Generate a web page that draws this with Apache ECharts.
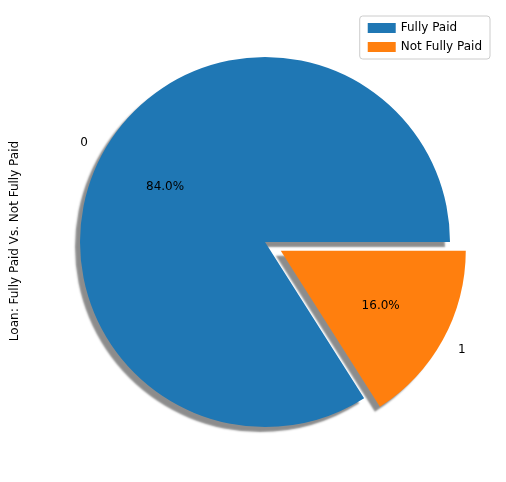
<!DOCTYPE html>
<html><head><meta charset="utf-8">
<script src="https://cdn.jsdelivr.net/npm/echarts@6/dist/echarts.min.js"></script>
<style>html,body{margin:0;padding:0;background:#fff}#c{width:506px;height:482px}</style>
</head><body><div id="c"></div>
<script>
const categories = ['Fully Paid', 'Not Fully Paid'];
const sliceNames = ['0', '1'];
const values = [84.0, 16.0];
const colors = ['#1f77b4', '#ff7f0e'];
const R = 185, C = [265, 242], OFF = 18;
const font = 'DejaVu Sans';
function data(withStyle) {
  return values.map((v, i) => ({
    value: v, name: categories[i], selected: i === 1,
    itemStyle: withStyle ? { color: colors[i] } : { color: 'rgba(0,0,0,0)' }
  }));
}
const base = { type: 'pie', center: C, startAngle: 0, clockwise: false, selectedMode: 'multiple',
  selectedOffset: OFF, animation: false, silent: true, labelLine: { show: false }, emphasis: { disabled: true } };
const chart = echarts.init(document.getElementById('c'));
chart.setOption({
  legend: { data: categories, orient: 'vertical', right: 16, top: 16, icon: 'rect', itemWidth: 28, itemHeight: 10,
    itemGap: 7, padding: [6, 8, 6, 8], borderColor: '#ccc', borderWidth: 1, borderRadius: 3,
    textStyle: { fontFamily: font, fontSize: 12, color: '#000' }, selectedMode: false },
  graphic: [{ type: 'text', left: 9, top: 'middle', rotation: Math.PI / 2,
    style: { text: 'Loan: Fully Paid Vs. Not Fully Paid', font: '12px "DejaVu Sans"', fill: '#000' } }],
  series: [
    Object.assign({}, base, { radius: [0, R], data: data(true), label: { show: false },
      itemStyle: { shadowColor: 'rgba(0,0,0,0.45)', shadowBlur: 2, shadowOffsetX: -5, shadowOffsetY: 5 } }),
    Object.assign({}, base, { radius: [0, R * 1.2], data: data(false),
      label: { show: true, position: 'inside', formatter: p => p.value.toFixed(1) + '%', fontFamily: font, fontSize: 12, color: '#000' } }),
    Object.assign({}, base, { radius: [0, R * 2.2], data: data(false),
      label: { show: true, position: 'inside', formatter: p => sliceNames[p.dataIndex], fontFamily: font, fontSize: 12, color: '#000' } })
  ]
});
</script></body></html>
